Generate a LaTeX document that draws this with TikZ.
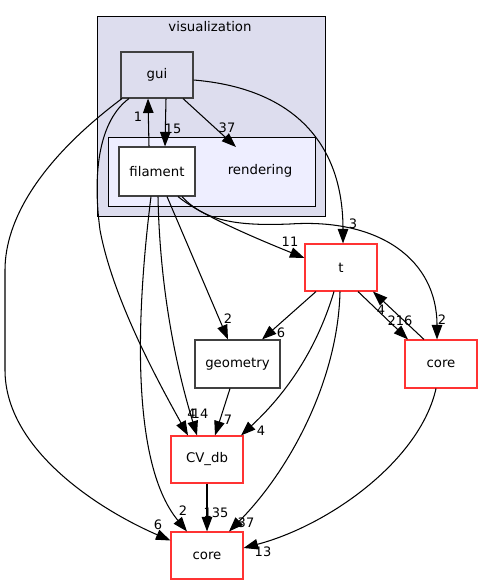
\documentclass[tikz,border=0pt]{standalone}
\usepackage{fontspec}
\setmainfont{DejaVu Sans}
\usetikzlibrary{arrows.meta}
\definecolor{clusterfill}{HTML}{DDDDEE}
\definecolor{rendfill}{HTML}{EEEEFF}
\definecolor{nodegray}{HTML}{404040}
\definecolor{trunc}{HTML}{FF3333}
\tikzset{
  lbl/.style={font=\fontsize{13.3}{16}\selectfont, inner sep=0pt},
  dirnode/.style={draw=nodegray, line width=1.1pt, rectangle, inner sep=0pt, font=\fontsize{13.3}{16}\selectfont},
  truncnode/.style={draw=trunc, line width=1.1pt, rectangle, fill=white, inner sep=0pt, font=\fontsize{13.3}{16}\selectfont},
  edge/.style={draw=black, line width=1.05pt, -{Triangle[length=14.5pt,width=10.5pt]}},
  elbl/.style={font=\fontsize{13}{15}\selectfont, inner sep=0pt}
}
\begin{document}
\begin{tikzpicture}[x=1pt,y=-1pt]
\useasboundingbox (0,0) rectangle (483,585);
\fill[white] (0,0) rectangle (483,585);
% clusters
\draw[fill=clusterfill, line width=0.8pt] (97,16) rectangle (325,216);
\node[lbl] (vislbl) at (210,27) {visualization};
\draw[fill=rendfill, line width=0.8pt] (108,137) rectangle (315,206);
\node[lbl] (rendlbl) at (260,171) {rendering};
\coordinate (rendtip) at (236,147);
% nodes
\node[dirnode, fill=clusterfill, minimum width=72pt, minimum height=46pt] (gui) at (157,75) {gui};
\node[dirnode, fill=white, minimum width=76pt, minimum height=49pt] (filament) at (157,171.5) {filament};
\node[truncnode, minimum width=72pt, minimum height=47pt] (t) at (341,267.5) {t};
\node[truncnode, minimum width=72pt, minimum height=48pt] (coreR) at (441,364) {core};
\node[dirnode, fill=white, minimum width=85pt, minimum height=48pt] (geometry) at (237.5,364) {geometry};
\node[truncnode, minimum width=72pt, minimum height=47pt] (cvdb) at (207,459.5) {CV\_db};
\node[truncnode, minimum width=72pt, minimum height=47pt] (coreB) at (207,555.5) {core};
% edges
\draw[edge] ([xshift=9]gui.south) -- ([xshift=8]filament.north);
\node[elbl] (l15) at (173,129) {15};
\draw[edge] ([xshift=-8]filament.north) -- ([xshift=-9]gui.south);
\node[elbl] (l1) at (138,117) {1};
\draw[edge] ([xshift=26]gui.south) -- (rendtip);
\node[elbl] (l37a) at (227,128) {37};
\draw[edge] ([yshift=-5]gui.east) .. controls (290,88) and (343,140) .. ([xshift=2]t.north);
\node[elbl] (l3) at (353,224) {3};
\draw[edge] ([xshift=-35]gui.south) .. controls (40,160) and (5,220) .. (5,270) -- (5,370) .. controls (5,450) and (100,510) .. ([yshift=15]coreB.west);
\node[elbl] (l6a) at (158,525) {6};
\draw[edge] ([xshift=-28]gui.south) .. controls (100,120) and (92,170) .. (100,230) .. controls (113,300) and (160,385) .. ([xshift=-19]cvdb.north);
\node[elbl] (l4a) at (191.5,414) {4};
\draw[edge] ([xshift=21]filament.south) .. controls (200,215) and (260,240) .. ([yshift=9.5]t.west);
\node[elbl] (l11) at (290,242) {11};
\draw[edge] ([xshift=25]filament.south) .. controls (205,222) and (240,226) .. (290,224) .. controls (380,218) and (437,260) .. ([xshift=-4]coreR.north);
\node[elbl] (l2a) at (442,320) {2};
\draw[edge] ([xshift=10]filament.south) -- ([xshift=-9.5]geometry.north);
\node[elbl] (l2b) at (228,319) {2};
\draw[edge] ([xshift=1]filament.south) .. controls (160,300) and (180,380) .. ([xshift=-10]cvdb.north);
\node[elbl] (l14) at (200,414) {14};
\draw[edge] ([xshift=-6]filament.south) .. controls (138,300) and (128,460) .. ([xshift=-20]coreB.north);
\node[elbl] (l2c) at (183,511) {2};
\draw[edge] ([xshift=-25]t.south) -- ([xshift=24.5]geometry.north);
\node[elbl] (l6b) at (281,333) {6};
\draw[edge] ([xshift=17]t.south) -- ([xshift=-33]coreR.north);
\node[elbl] (l216) at (400,321) {216};
\draw[edge] ([xshift=-17]coreR.north) -- ([xshift=32]t.south);
\node[elbl] (l4b) at (381,310) {4};
\draw[edge] ([xshift=-7]t.south) .. controls (318,345) and (290,390) .. ([xshift=34]cvdb.north);
\node[elbl] (l4c) at (261,431) {4};
\draw[edge] ([xshift=-1]t.south) .. controls (338,380) and (290,470) .. ([xshift=22]coreB.north);
\node[elbl] (l37b) at (246,523) {37};
\draw[edge] ([xshift=-7.5]geometry.south) -- ([xshift=8]cvdb.north);
\node[elbl] (l7) at (228,420) {7};
\draw[edge] (cvdb.south) -- (coreB.north);
\node[elbl] (l135) at (216,513) {135};
\draw[edge] ([xshift=-5]coreR.south) .. controls (420,460) and (330,525) .. ([yshift=7.5]coreB.east);
\node[elbl] (l13) at (263,552) {13};
\end{tikzpicture}
\end{document}
